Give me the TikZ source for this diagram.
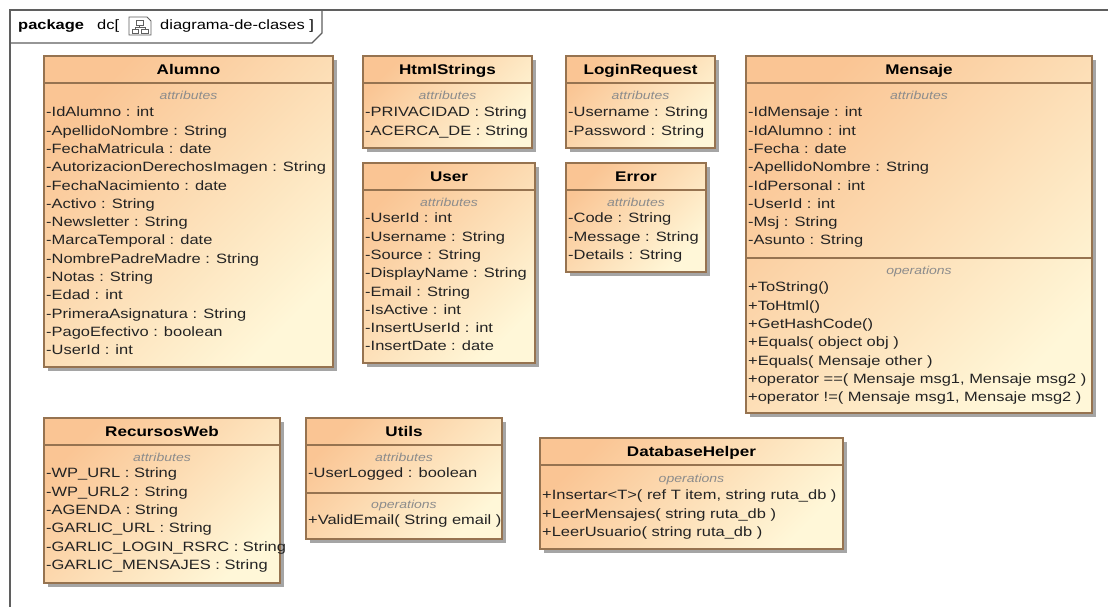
\documentclass[tikz,border=0pt]{standalone}
\usepackage{fontspec}
\setmainfont{Liberation Sans}[FakeStretch=1.22]
\usetikzlibrary{fit}
\definecolor{boxorange}{RGB}{250,197,148}
\definecolor{boxlight}{RGB}{255,247,216}
\definecolor{boxborder}{RGB}{150,115,80}
\definecolor{shadowgray}{RGB}{165,165,165}
\definecolor{framegray}{RGB}{95,95,95}
\definecolor{labelgray}{RGB}{140,140,140}
\definecolor{textdark}{RGB}{35,35,35}
\tikzset{
  classbody/.style={draw=boxborder, line width=1.1pt, inner sep=0pt,
    top color=boxorange, bottom color=boxlight, shading angle=45},
  sepline/.style={draw=boxborder, line width=1.1pt},
  titletext/.style={font=\fontsize{14}{16}\selectfont\bfseries, text=black, inner sep=0pt, anchor=base},
  rowtext/.style={font=\fontsize{13.5}{15}\selectfont, text=textdark, inner sep=0pt, anchor=base west},
  labeltext/.style={font=\fontsize{11.5}{13}\selectfont\itshape, text=labelgray, inner sep=0pt, anchor=base},
  pkgtext/.style={font=\fontsize{13.5}{15}\selectfont, text=black, inner sep=0pt, anchor=base west},
  frameline/.style={draw=framegray, line width=1.2pt},
}
\newcommand\umlclass[6]{%
  \fill[shadowgray] (#2+4,#3+4) rectangle (#4+4,#5+4);
  \node[classbody, fit={(#2,#3) (#4,#5)}] (#1) {};
  \node[titletext] (#1-title) at ({(#2+#4)/2}, #3+18.5) {#6};
  \draw[sepline] (#2,#3+27) -- (#4,#3+27);
}
\newcommand\complabel[4]{% name, xcenter, y center, text
  \node[labeltext] (#1) at (#2, #3+4.2) {#4};
}
\newcommand\rowlist[4]{% prefix, x, first y center, list
  \foreach \t [count=\i from 0] in {#4} {%
    \node[rowtext] (#1\i) at (#2, {#3+18.3*\i+4.8}) {\t};}
}
\begin{document}
\begin{tikzpicture}[x=1pt, y=-1pt]
\useasboundingbox (0,0) rectangle (1108,606);
\clip (0,0) rectangle (1108,606);
\fill[white] (0,0) rectangle (1108,606);
% package frame
\draw[frameline] (10,620) -- (10,10) -- (1120,10);
\draw[frameline] (10,43) -- (312,43) -- (322,33) -- (322,10);
\node[pkgtext, font=\fontsize{13.5}{15}\selectfont\bfseries] (pkgkw) at (18,29) {package};
\node[pkgtext] (pkgname) at (97,29) {dc[};
% diagram icon
\draw[framegray, line width=0.8pt, fill=white] (129,17) -- (147,17) -- (151,21) -- (151,35) -- (129,35) -- cycle;
\draw[framegray, line width=0.7pt] (136,20) rectangle (143,25);
\draw[framegray, line width=0.7pt] (132,29) rectangle (138.5,33);
\draw[framegray, line width=0.7pt] (141.5,29) rectangle (148,33);
\draw[framegray, line width=0.7pt] (139.5,25) -- (139.5,27) (135,29) -- (135,27) -- (145,27) -- (145,29);
\node[pkgtext] (pkgdiag) at (160,29) {diagrama-de-clases ]};

% Alumno
\umlclass{alumno}{44}{56}{333}{367}{Alumno}
\complabel{alumno-attr}{188.5}{95}{attributes}
\rowlist{alumno-r}{46}{112}{-IdAlumno : int, -ApellidoNombre : String, -FechaMatricula : date, -AutorizacionDerechosImagen : String, -FechaNacimiento : date, -Activo : String, -Newsletter : String, -MarcaTemporal : date, -NombrePadreMadre : String, -Notas : String, -Edad : int, -PrimeraAsignatura : String, -PagoEfectivo : boolean, -UserId : int}

% HtmlStrings
\umlclass{html}{363}{56}{532}{148}{HtmlStrings}
\complabel{html-attr}{447.5}{95}{attributes}
\rowlist{html-r}{365}{112}{-PRIVACIDAD : String, -ACERCA\_DE : String}

% LoginRequest
\umlclass{login}{566}{56}{715}{148}{LoginRequest}
\complabel{login-attr}{640.5}{95}{attributes}
\rowlist{login-r}{568}{112}{-Username : String, -Password : String}

% Mensaje
\umlclass{mensaje}{746}{56}{1092}{413}{Mensaje}
\complabel{mensaje-attr}{919}{95}{attributes}
\rowlist{mensaje-r}{748}{112}{-IdMensaje : int, -IdAlumno : int, -Fecha : date, -ApellidoNombre : String, -IdPersonal : int, -UserId : int, -Msj : String, -Asunto : String}
\draw[sepline] (746,258) -- (1092,258);
\complabel{mensaje-ops}{919}{270}{operations}
\rowlist{mensaje-o}{748}{287}{+ToString(), +ToHtml(), +GetHashCode(), +Equals( object obj ), +Equals( Mensaje other ), {+operator ==( Mensaje msg1, Mensaje msg2 )}, {+operator !=( Mensaje msg1, Mensaje msg2 )}}

% User
\umlclass{user}{363}{163}{535}{363}{User}
\complabel{user-attr}{449}{202}{attributes}
\rowlist{user-r}{365}{218}{-UserId : int, -Username : String, -Source : String, -DisplayName : String, -Email : String, -IsActive : int, -InsertUserId : int, -InsertDate : date}

% Error
\umlclass{error}{566}{163}{706}{272}{Error}
\complabel{error-attr}{636}{202}{attributes}
\rowlist{error-r}{568}{218}{-Code : String, -Message : String, -Details : String}

% RecursosWeb
\umlclass{recursos}{44}{418}{280}{583}{RecursosWeb}
\complabel{recursos-attr}{162}{457}{attributes}
\rowlist{recursos-r}{46}{473}{-WP\_URL : String, -WP\_URL2 : String, -AGENDA : String, -GARLIC\_URL : String, -GARLIC\_LOGIN\_RSRC : String, -GARLIC\_MENSAJES : String}

% Utils
\umlclass{utils}{306}{418}{502}{539}{Utils}
\complabel{utils-attr}{404}{457}{attributes}
\rowlist{utils-r}{308}{473}{-UserLogged : boolean}
\draw[sepline] (306,493) -- (502,493);
\complabel{utils-ops}{404}{504}{operations}
\rowlist{utils-o}{308}{520}{+ValidEmail( String email )}

% DatabaseHelper
\umlclass{dbhelper}{540}{438}{843}{549}{DatabaseHelper}
\complabel{dbhelper-ops}{691.5}{478}{operations}
\rowlist{dbhelper-o}{542}{495}{{+Insertar<T>( ref T item, string ruta\_db )}, +LeerMensajes( string ruta\_db ), +LeerUsuario( string ruta\_db )}
\end{tikzpicture}
\end{document}
